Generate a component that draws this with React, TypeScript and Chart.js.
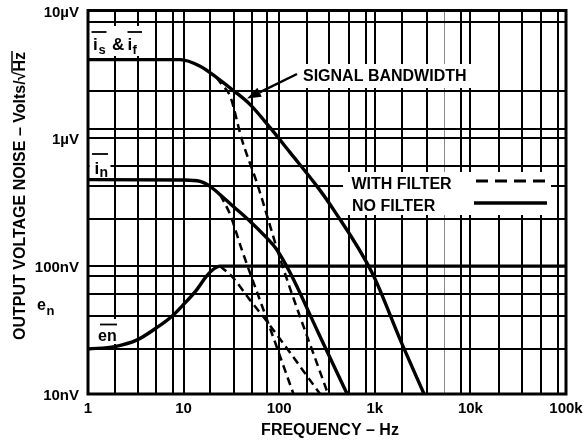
import React, { useEffect, useRef } from 'react';
import { Chart, registerables } from 'chart.js';

Chart.register(...registerables);

// ---- axis ticks (labelled decades) ----
const FREQ_TICKS = [1, 10, 100, 1000, 10000, 100000];
const FREQ_TICK_LABELS = ['1', '10', '100', '1k', '10k', '100k'];
const NOISE_TICKS = [10, 100, 1000, 10000]; // nV/√Hz
const NOISE_TICK_LABELS = ['10nV', '100nV', '1µV', '10µV'];

// ---- unlabelled grid lines ----
const FREQ_GRID = [1.9, 3.3, 5.1, 7.8, 19, 34, 52, 75, 196, 330, 535, 800, 1940, 3500, 5300, 7950, 20000, 35000, 55000, 82000];
const FREQ_GRID_FAINT = [5300];
const NOISE_GRID = [22.5, 40.4, 60.8, 84, 235, 421, 611, 1180, 2330, 8100];

// ---- series: frequency (Hz) and output noise (nV/√Hz) ----
const IS_FREQ = [1, 9.2, 14.9, 22.2, 33.2, 49.7, 80.7, 131, 249, 370, 942, 1866, 3275];
const IS_NOISE = [4130, 4130, 3664, 2987, 2364, 1836, 1206, 769, 421, 277, 88, 26, 10];
const IS_FILT_FREQ = [22.2, 25.1, 30.7, 40.7, 58.5, 107, 324];
const IS_FILT_NOISE = [2987, 2633, 2133, 977, 448, 103, 10];

const IN_FREQ = [1, 10, 14.9, 18.9, 24.1, 33.2, 49.7, 71.5, 94.8, 131, 257, 514];
const IN_NOISE = [475, 472, 460, 421, 362, 293, 224, 171, 134, 88, 30, 10];
const IN_FILT_FREQ = [24.1, 30.7, 40.7, 73.3, 141];
const IN_FILT_NOISE = [362, 253, 134, 39.5, 10];

const EN_FREQ = [1, 1.91, 3.27, 5.13, 7.5, 9.93, 13.7, 16.8, 19.9, 24.1, 100000];
const EN_NOISE = [22.5, 23.5, 26.5, 32.7, 40.4, 49.9, 65.3, 81, 92.9, 100, 100];
const EN_FILT_FREQ = [24.1, 32, 49.8, 74.5, 268];
const EN_FILT_NOISE = [100, 83, 54, 36.9, 10];

const FONT_FAMILY = '"Liberation Sans", Arial, Helvetica, sans-serif';
const font = (size: number) => `bold ${size}px ${FONT_FAMILY}`;

function makeSeries(freq: number[], noise: number[], dashed: boolean) {
  return {
    data: freq.map((f, i) => ({ x: f, y: noise[i] })),
    borderColor: '#000',
    backgroundColor: '#000',
    borderWidth: dashed ? 2.5 : 3.4,
    borderDash: dashed ? [8, 5] : [],
    pointRadius: 0,
    pointHoverRadius: 0,
    fill: false,
    cubicInterpolationMode: 'monotone' as const,
  };
}

function gridTicks(decades: number[], minor: number[]) {
  return [...decades, ...minor].sort((a, b) => a - b).map((v) => ({ value: v }));
}

function hLine(ctx: CanvasRenderingContext2D, x1: number, x2: number, y: number) {
  ctx.beginPath();
  ctx.moveTo(x1, y);
  ctx.lineTo(x2, y);
  ctx.stroke();
}

const annotations = {
  id: 'annotations',
  beforeDatasetsDraw(chart: any) {
    const { ctx } = chart;
    ctx.save();
    ctx.fillStyle = '#fff';
    // white label backgrounds hiding the grid
    ctx.fillRect(89.5, 26, 55, 30); // is & if
    ctx.fillRect(89.5, 149, 21, 30); // in
    ctx.fillRect(95, 319, 25, 25); // en
    ctx.fillRect(300, 64, 172, 24); // signal bandwidth
    ctx.fillRect(343, 172, 208, 43); // legend
    ctx.restore();
  },
  afterDatasetsDraw(chart: any) {
    const { ctx, chartArea } = chart;
    ctx.save();
    ctx.fillStyle = '#000';
    ctx.strokeStyle = '#000';
    ctx.textBaseline = 'alphabetic';
    ctx.textAlign = 'left';

    // i_s & i_f
    ctx.font = font(17);
    ctx.fillText('i', 93, 50);
    ctx.fillText('&', 112, 50);
    ctx.fillText('i', 127.5, 50);
    ctx.font = font(13);
    ctx.fillText('s', 98.5, 54);
    ctx.fillText('f', 132.5, 54);
    ctx.lineWidth = 1.8;
    hLine(ctx, 91.5, 106.5, 32);
    hLine(ctx, 127.5, 142, 32);

    // i_n
    ctx.font = font(17);
    ctx.fillText('i', 94.5, 174);
    ctx.font = font(14);
    ctx.fillText('n', 99.5, 177);
    hLine(ctx, 92, 108, 154);

    // en (inside plot)
    ctx.font = font(16);
    ctx.fillText('en', 98, 341);
    hLine(ctx, 100, 117, 324.5);

    // e_n (outside plot)
    ctx.font = font(16);
    ctx.fillText('e', 37, 310);
    ctx.font = font(13);
    ctx.fillText('n', 46.5, 315);

    // SIGNAL BANDWIDTH + arrow
    ctx.font = font(16);
    ctx.textBaseline = 'middle';
    ctx.fillText('SIGNAL BANDWIDTH', 303, 77);
    const tail = { x: 297, y: 74 };
    const tip = { x: 247, y: 98.5 };
    const dx = tip.x - tail.x, dy = tip.y - tail.y;
    const len = Math.hypot(dx, dy);
    const ux = dx / len, uy = dy / len;
    const bx = tip.x - ux * 14, by = tip.y - uy * 14;
    ctx.lineWidth = 2.5;
    ctx.beginPath();
    ctx.moveTo(tail.x, tail.y);
    ctx.lineTo(bx, by);
    ctx.stroke();
    ctx.beginPath();
    ctx.moveTo(tip.x, tip.y);
    ctx.lineTo(bx - uy * 5, by + ux * 5);
    ctx.lineTo(bx + uy * 5, by - ux * 5);
    ctx.closePath();
    ctx.fill();

    // legend
    ctx.font = font(16);
    ctx.fillText('WITH FILTER', 351.5, 184.5);
    ctx.fillText('NO FILTER', 352, 207);
    ctx.lineWidth = 3;
    ctx.setLineDash([12, 7]);
    hLine(ctx, 476, 546, 181);
    ctx.setLineDash([]);
    ctx.lineWidth = 3.5;
    hLine(ctx, 474, 547, 203);

    // x axis title
    ctx.font = font(16);
    ctx.textAlign = 'center';
    ctx.fillText('FREQUENCY – Hz', (chartArea.left + chartArea.right) / 2 + 3, 431);

    // y axis title
    ctx.save();
    ctx.translate(25, 196);
    ctx.rotate(-Math.PI / 2);
    ctx.textAlign = 'left';
    ctx.textBaseline = 'alphabetic';
    ctx.font = font(16);
    const main = 'OUTPUT VOLTAGE NOISE – Volts/';
    const w1 = ctx.measureText(main).width;
    const w2 = ctx.measureText('√').width;
    const w3 = ctx.measureText('Hz').width;
    const x0 = -(w1 + w2 + w3) / 2;
    ctx.fillText(main, x0, 0);
    ctx.fillText('√', x0 + w1, 0);
    ctx.fillText('Hz', x0 + w1 + w2, 0);
    ctx.lineWidth = 1.5;
    hLine(ctx, x0 + w1 + w2 - 1, x0 + w1 + w2 + w3 + 1, -13);
    ctx.restore();

    // plot frame
    ctx.lineWidth = 3;
    ctx.strokeRect(chartArea.left, chartArea.top, chartArea.right - chartArea.left, chartArea.bottom - chartArea.top);
    ctx.restore();
  },
};

export default function App() {
  const ref = useRef<HTMLCanvasElement>(null);

  useEffect(() => {
    const canvas = ref.current;
    if (!canvas) return;
    const chart = new Chart(canvas, {
      type: 'line',
      data: {
        datasets: [
          makeSeries(IS_FREQ, IS_NOISE, false),
          makeSeries(IS_FILT_FREQ, IS_FILT_NOISE, true),
          makeSeries(IN_FREQ, IN_NOISE, false),
          makeSeries(IN_FILT_FREQ, IN_FILT_NOISE, true),
          makeSeries(EN_FREQ, EN_NOISE, false),
          makeSeries(EN_FILT_FREQ, EN_FILT_NOISE, true),
        ],
      },
      options: {
        animation: false,
        responsive: false,
        devicePixelRatio: 1,
        layout: { padding: { top: 10.5, right: 20, left: 0, bottom: 0 } },
        plugins: { legend: { display: false }, tooltip: { enabled: false } },
        scales: {
          x: {
            type: 'logarithmic',
            min: 1,
            max: 100000,
            afterBuildTicks: (s: any) => {
              s.ticks = gridTicks(FREQ_TICKS, FREQ_GRID);
            },
            afterFit: (s: any) => {
              s.height = 47;
              s.paddingLeft = 0;
              s.paddingRight = 0;
            },
            ticks: {
              autoSkip: false,
              maxRotation: 0,
              minRotation: 0,
              padding: 6,
              color: '#000',
              font: { family: FONT_FAMILY, size: 15, weight: 'bold' },
              callback: (v: any) => {
                const i = FREQ_TICKS.indexOf(Number(v));
                return i >= 0 ? FREQ_TICK_LABELS[i] : '';
              },
            },
            grid: {
              drawTicks: false,
              color: (c: any) => (FREQ_GRID_FAINT.includes(c.tick?.value) ? '#8a8a8a' : '#000'),
              lineWidth: (c: any) => (FREQ_GRID_FAINT.includes(c.tick?.value) ? 1 : 2),
            },
            border: { display: false },
          },
          y: {
            type: 'logarithmic',
            min: 10,
            max: 10000,
            afterBuildTicks: (s: any) => {
              s.ticks = gridTicks(NOISE_TICKS, NOISE_GRID);
            },
            afterFit: (s: any) => {
              s.width = 88;
              s.paddingTop = 0;
              s.paddingBottom = 0;
            },
            ticks: {
              autoSkip: false,
              padding: 9,
              labelOffset: 2,
              color: '#000',
              font: { family: FONT_FAMILY, size: 15, weight: 'bold' },
              callback: (v: any) => {
                const i = NOISE_TICKS.indexOf(Number(v));
                return i >= 0 ? NOISE_TICK_LABELS[i] : '';
              },
            },
            grid: { drawTicks: false, color: '#000', lineWidth: 2 },
            border: { display: false },
          },
        },
      },
      plugins: [annotations],
    } as any);
    return () => chart.destroy();
  }, []);

  return (
    <div style={{ position: 'fixed', left: 0, top: 0, width: 586, height: 441, background: '#fff' }}>
      <canvas ref={ref} width={586} height={441} style={{ display: 'block' }} />
    </div>
  );
}
